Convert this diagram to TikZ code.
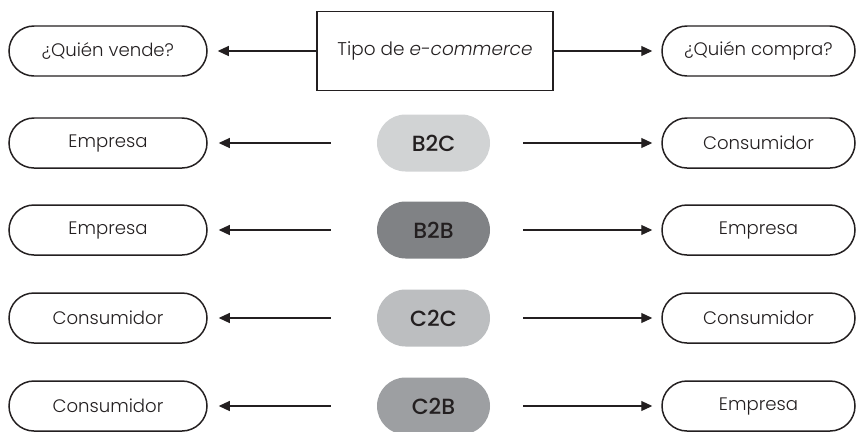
\documentclass[tikz,border=0pt]{standalone}
\usepackage{fontspec}
\setmainfont{Poppins}[UprightFont=* Light, ItalicFont=* Light Italic, BoldFont=* Medium]
\usetikzlibrary{arrows.meta}
\definecolor{tinta}{HTML}{231F20}
\definecolor{grisBC}{HTML}{D1D3D4}
\definecolor{grisBB}{HTML}{808285}
\definecolor{grisCC}{HTML}{BCBEC0}
\definecolor{grisCB}{HTML}{9D9FA2}
\tikzset{
  lado/.style={draw=tinta, line width=0.85pt, rounded corners=0.5cm, minimum width=3.96cm,
    minimum height=1.0cm, inner sep=0pt, text=tinta, font=\fontsize{10.3}{12}\selectfont},
  pastilla/.style={fill=#1, rounded corners=0.57cm, minimum width=2.26cm, minimum height=1.14cm,
    inner sep=0pt, text=tinta, font=\fontsize{12.5}{14}\selectfont\bfseries},
  flecha/.style={draw=tinta, line width=0.6pt, -{Triangle[length=0.22cm,width=0.2cm]}}
}
\begin{document}
\begin{tikzpicture}
\useasboundingbox (0,0) rectangle (17.12,8.62);
% cabecera
\node[draw=tinta, line width=0.85pt, minimum width=4.72cm, minimum height=1.58cm, inner sep=0pt,
  text=tinta, font=\fontsize{10.5}{12}\selectfont] (tipo) at (8.7,7.6) {Tipo de \textit{e-commerce}};
\node[lado] (vende) at (2.16,7.6) {¿Quién vende?};
\node[lado, minimum width=3.86cm] (compra) at (15.17,7.6) {¿Quién compra?};
\draw[flecha, shorten >=0.2cm] (tipo.west) -- (vende.east);
\draw[flecha, shorten >=0.18cm] (tipo.east) -- (compra.west);
% B2C
\node[pastilla=grisBC] (b2c) at (8.67,5.76) {B2C};
\node[lado] (vb2c) at (2.16,5.76) {Empresa};
\node[lado, minimum width=3.86cm] (cb2c) at (15.17,5.76) {Consumidor};
\draw[flecha, shorten <=0.92cm, shorten >=0.22cm] (b2c.west) -- (vb2c.east);
\draw[flecha, shorten <=0.66cm, shorten >=0.18cm] (b2c.east) -- (cb2c.west);
% B2B
\node[pastilla=grisBB] (b2b) at (8.67,4.02) {B2B};
\node[lado] (vb2b) at (2.16,4.02) {Empresa};
\node[lado, minimum width=3.86cm] (cb2b) at (15.17,4.02) {Empresa};
\draw[flecha, shorten <=0.92cm, shorten >=0.22cm] (b2b.west) -- (vb2b.east);
\draw[flecha, shorten <=0.66cm, shorten >=0.18cm] (b2b.east) -- (cb2b.west);
% C2C
\node[pastilla=grisCC] (c2c) at (8.67,2.26) {C2C};
\node[lado] (vc2c) at (2.16,2.26) {Consumidor};
\node[lado, minimum width=3.86cm] (cc2c) at (15.17,2.26) {Consumidor};
\draw[flecha, shorten <=0.92cm, shorten >=0.22cm] (c2c.west) -- (vc2c.east);
\draw[flecha, shorten <=0.66cm, shorten >=0.18cm] (c2c.east) -- (cc2c.west);
% C2B
\node[pastilla=grisCB] (c2b) at (8.67,0.5) {C2B};
\node[lado] (vc2b) at (2.16,0.5) {Consumidor};
\node[lado, minimum width=3.86cm] (cc2b) at (15.17,0.5) {Empresa};
\draw[flecha, shorten <=0.92cm, shorten >=0.22cm] (c2b.west) -- (vc2b.east);
\draw[flecha, shorten <=0.66cm, shorten >=0.18cm] (c2b.east) -- (cc2b.west);
\end{tikzpicture}
\end{document}
